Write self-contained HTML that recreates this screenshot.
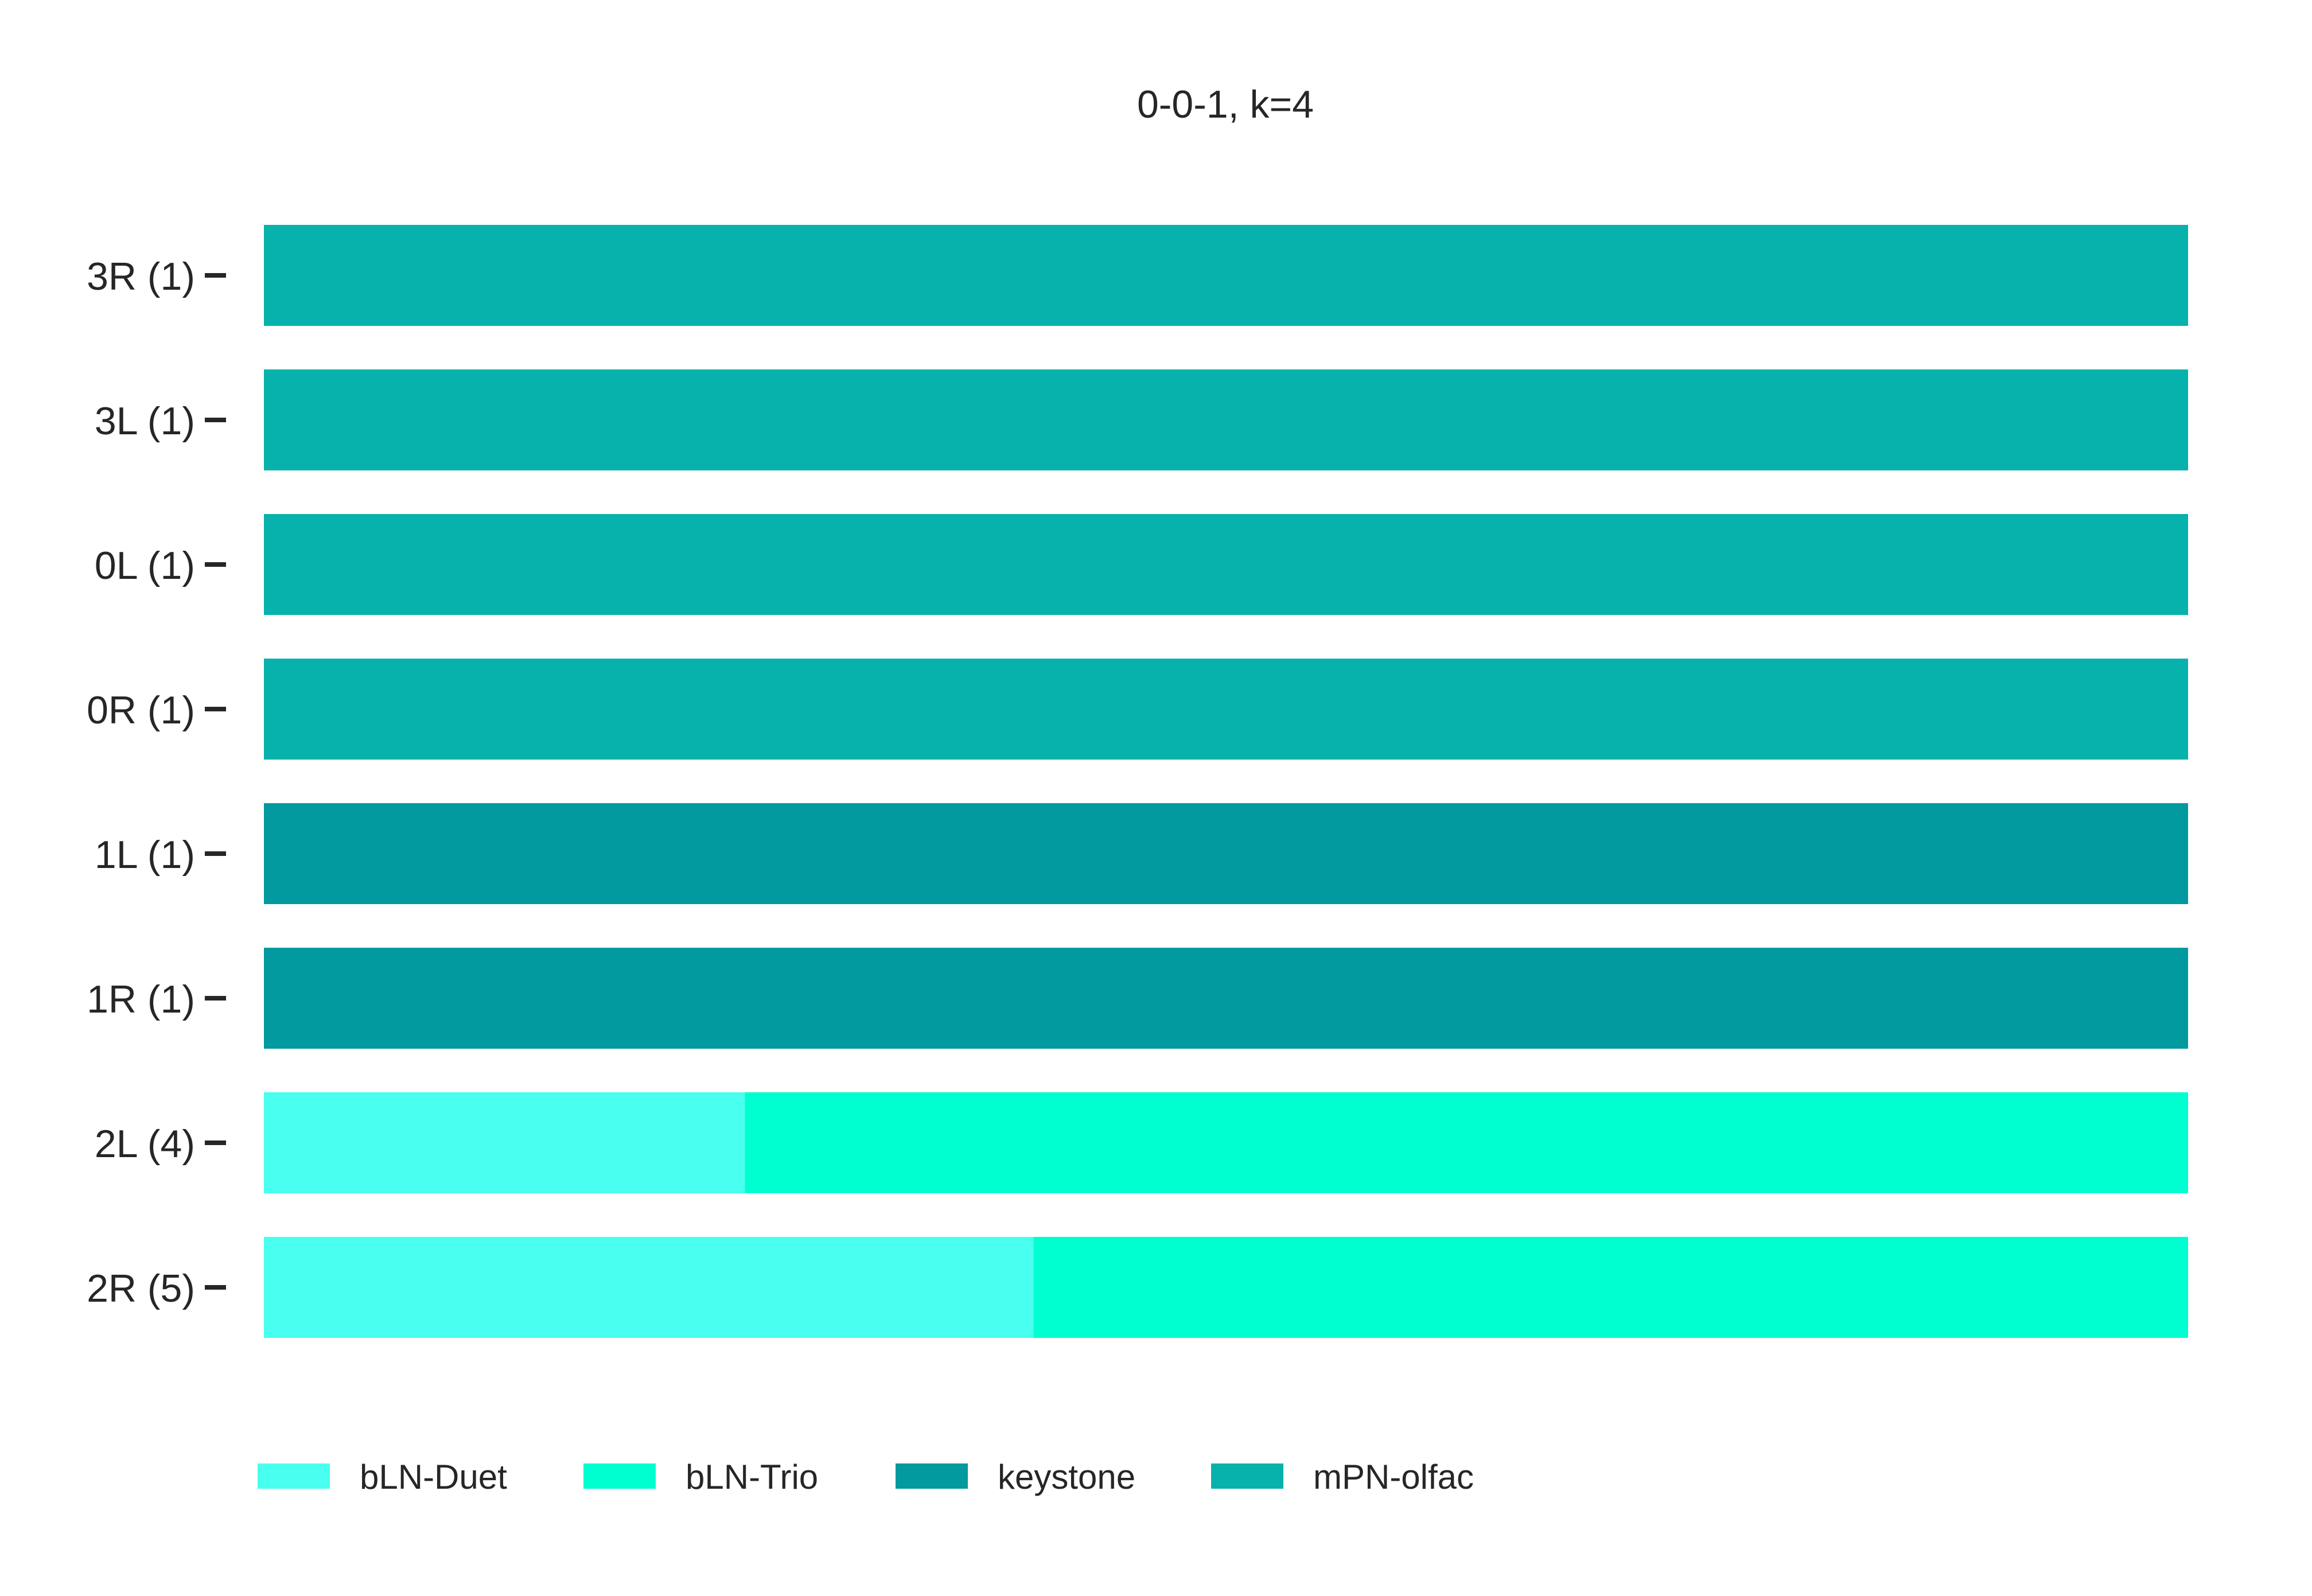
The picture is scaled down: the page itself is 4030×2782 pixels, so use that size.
<!DOCTYPE html>
<html><head><meta charset="utf-8"><style>
html,body{margin:0;padding:0;background:#fff;}
svg{display:block;font-family:"Liberation Sans",Arial,sans-serif;}
</style></head><body>
<svg id="chart" width="4030" height="2782" viewBox="0 0 4030 2782" xmlns="http://www.w3.org/2000/svg">
<rect width="4030" height="2782" fill="#fff"/>
<text x="2136" y="205" font-size="68" fill="#262626" text-anchor="middle">0-0-1, k=4</text>
<g id="bars"></g>
<g id="yaxis"></g>
<g id="legend"></g>
</svg>
<script>
const categories = ["3R (1)","3L (1)","0L (1)","0R (1)","1L (1)","1R (1)","2L (4)","2R (5)"];
const seriesNames = ["bLN-Duet","bLN-Trio","keystone","mPN-olfac"];
const seriesColors = ["#48fff0","#00ffd0","#02999f","#08b2ac"];
const duet = [0,0,0,0,0,0,1,2];
const trio = [0,0,0,0,0,0,3,3];
const keystone = [0,0,0,0,1,1,0,0];
const mpn = [1,1,1,1,0,0,0,0];
const series = [duet, trio, keystone, mpn];

const NS = "http://www.w3.org/2000/svg";
const x0 = 460, x1 = 3814, yTop = 392, pitch = 252, barH = 176;
function xScale(f){ return x0 + f*(x1-x0); }
function yScale(i){ return yTop + i*pitch; }
const barsG = document.getElementById('bars');
const yG = document.getElementById('yaxis');
categories.forEach((cat,i)=>{
  const total = series.reduce((s,a)=>s+a[i],0) || 1;
  let cum = 0;
  series.forEach((arr,k)=>{
    if(arr[i]<=0) return;
    const r = document.createElementNS(NS,'rect');
    const xa = xScale(cum/total), xb = xScale((cum+arr[i])/total);
    r.setAttribute('x', xa); r.setAttribute('y', yScale(i));
    r.setAttribute('width', xb-xa); r.setAttribute('height', barH);
    r.setAttribute('fill', seriesColors[k]);
    
    
    barsG.appendChild(r);
    cum += arr[i];
  });
  const cy = yScale(i) + barH/2;
  const t = document.createElementNS(NS,'text');
  t.setAttribute('x', 340); t.setAttribute('y', cy+25);
  t.setAttribute('font-size', 68); t.setAttribute('fill', '#262626');
  t.setAttribute('text-anchor', 'end');
  t.textContent = cat;
  
  
  yG.appendChild(t);
  const tk = document.createElementNS(NS,'rect');
  tk.setAttribute('x', 357); tk.setAttribute('y', cy-4);
  tk.setAttribute('width', 37); tk.setAttribute('height', 8);
  tk.setAttribute('fill', '#262626');
  
  
  yG.appendChild(tk);
});
const legG = document.getElementById('legend');
const legX = [449, 1017, 1561, 2111];
seriesNames.forEach((n,k)=>{
  const g = document.createElementNS(NS,'g');
  
  
  const r = document.createElementNS(NS,'rect');
  r.setAttribute('x', legX[k]); r.setAttribute('y', 2551);
  r.setAttribute('width', 126); r.setAttribute('height', 44);
  r.setAttribute('fill', seriesColors[k]);
  
  
  g.appendChild(r);
  const t = document.createElementNS(NS,'text');
  t.setAttribute('x', legX[k]+178); t.setAttribute('y', 2595);
  t.setAttribute('font-size', 60); t.setAttribute('fill', '#262626');
  t.textContent = n;
  
  
  g.appendChild(t);
  legG.appendChild(g);
});
</script>
</body></html>
